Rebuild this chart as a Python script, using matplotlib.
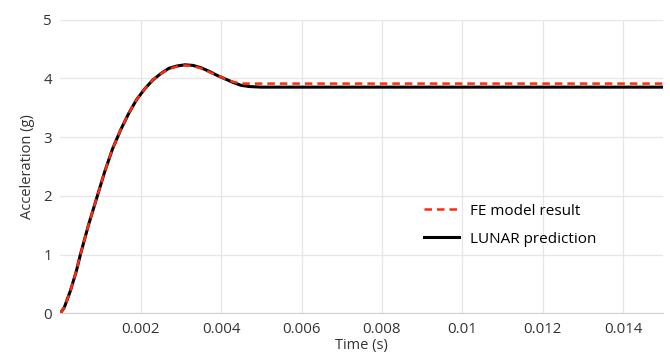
import matplotlib
matplotlib.use("Agg")
import matplotlib.pyplot as plt

plt.rcParams['font.family'] = ['Open Sans', 'DejaVu Sans']

# values
t_fe = [0, 0.0001, 0.00025, 0.0004, 0.0005, 0.0007, 0.0009, 0.0011, 0.0013,
        0.0015, 0.0017, 0.0019, 0.0021, 0.0023, 0.0025, 0.0027, 0.0029,
        0.0031, 0.0033, 0.0035, 0.0037, 0.0039, 0.0041, 0.0043, 0.0045,
        0.0047, 0.015]
acc_fe = [0, 0.1, 0.38, 0.72, 1.0, 1.5, 1.95, 2.4, 2.8,
          3.12, 3.4, 3.64, 3.82, 3.97, 4.08, 4.16, 4.2,
          4.22, 4.21, 4.17, 4.11, 4.05, 3.99, 3.94, 3.91,
          3.91, 3.91]

t_lunar = [0, 0.0001, 0.00025, 0.0004, 0.0005, 0.0007, 0.0009, 0.0011, 0.0013,
           0.0015, 0.0017, 0.0019, 0.0021, 0.0023, 0.0025, 0.0027, 0.0029,
           0.0031, 0.0033, 0.0035, 0.0037, 0.0039, 0.0041, 0.0043, 0.0045,
           0.0047, 0.005, 0.015]
acc_lunar = [0, 0.1, 0.38, 0.72, 1.0, 1.5, 1.95, 2.4, 2.8,
             3.12, 3.4, 3.64, 3.82, 3.97, 4.08, 4.17, 4.21,
             4.23, 4.22, 4.18, 4.12, 4.05, 3.99, 3.93, 3.88,
             3.86, 3.85, 3.85]

xticks = [0.002, 0.004, 0.006, 0.008, 0.01, 0.012, 0.014]
xtick_labels = ['0.002', '0.004', '0.006', '0.008', '0.01', '0.012', '0.014']

fig = plt.figure(figsize=(6.7, 3.56), dpi=100)
ax = fig.add_axes([0.09, 0.12, 0.9, 0.825])

ax.plot(t_lunar, acc_lunar, color='black', lw=2.2, label='LUNAR prediction', zorder=3)
ax.plot(t_fe, acc_fe, color='#ff2a10', lw=1.8, ls=(0, (3, 2)), label='FE model result', zorder=4)

ax.set_xlim(0, 0.015)
ax.set_ylim(0, 5)
ax.set_xticks(xticks)
ax.set_xticklabels(xtick_labels)
ax.set_yticks([0, 1, 2, 3, 4, 5])
ax.grid(True, color='#e6e6e6', lw=0.9)
ax.set_axisbelow(True)
for s in ['top', 'right', 'left']:
    ax.spines[s].set_visible(False)
ax.spines['bottom'].set_color('#d0d0d0')
ax.tick_params(length=0, labelsize=10.8, colors='#333333', pad=6)
ax.set_xlabel('Time (s)', fontsize=10.5, color='#333333', labelpad=1)
ax.set_ylabel('Acceleration (g)', fontsize=10.5, color='#333333', labelpad=6)

# legend order: FE first
h, l = ax.get_legend_handles_labels()
ax.legend(h[::-1], l[::-1], loc='center left', bbox_to_anchor=(0.58, 0.3),
          frameon=False, fontsize=11, handlelength=2.3, handletextpad=0.7,
          labelspacing=0.85)

fig.savefig('out.png', dpi=100)
